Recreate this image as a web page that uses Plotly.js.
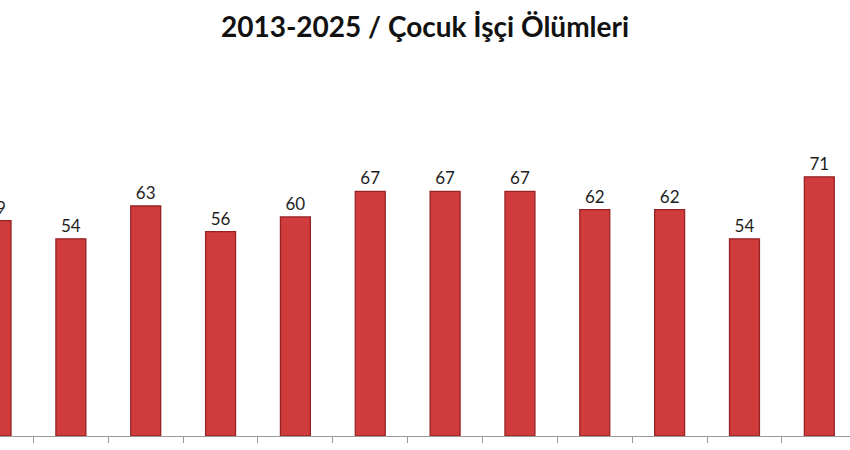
<!DOCTYPE html>
<html>
<head>
<meta charset="utf-8">
<script src="https://cdn.plot.ly/plotly-3.0.1.min.js"></script>
<style>html,body{margin:0;padding:0;background:#fff;}#chart{width:850px;height:450px;}</style>
</head>
<body>
<div id="chart"></div>
<script>
const years = ["2014","2015","2016","2017","2018","2019","2020","2021","2022","2023","2024","2025"];
const deaths = [59, 54, 63, 56, 60, 67, 67, 67, 62, 62, 54, 71];
const chartTitle = "2013-2025 / Çocuk İşçi Ölümleri";

const trace = {
  type: "bar",
  x: years,
  y: deaths,
  width: 0.4,
  text: deaths.map(String),
  textposition: "outside",
  cliponaxis: true,
  textfont: {family: "Lato, 'Open Sans', sans-serif", size: 17, color: "#1e1e1e"},
  marker: {color: "#d03b3c", line: {color: "#962324", width: 1.3}},
  hoverinfo: "x+y"
};

const layout = {
  width: 850, height: 450,
  margin: {l: 0, r: 0, t: 60, b: 14},
  paper_bgcolor: "#fff", plot_bgcolor: "#fff",
  title: {text: "<b>" + chartTitle + "</b>", x: 0.5, xanchor: "center", y: 0.962, yanchor: "top",
          font: {family: "Lato, 'Open Sans', sans-serif", size: 28, color: "#111"}},
  xaxis: {type: "category", range: [0.053, 11.41], showgrid: false, zeroline: false,
          showline: true, linecolor: "#9a9a9a", linewidth: 1,
          ticks: "outside", tickson: "boundaries", ticklen: 6, tickcolor: "#9a9a9a",
          showticklabels: false, fixedrange: true},
  yaxis: {range: [0, 103], visible: false, showgrid: false, zeroline: false, fixedrange: true},
  showlegend: false,
  bargap: 0.6
};

Plotly.newPlot("chart", [trace], layout, {displayModeBar: false, staticPlot: true});
</script>
</body>
</html>
